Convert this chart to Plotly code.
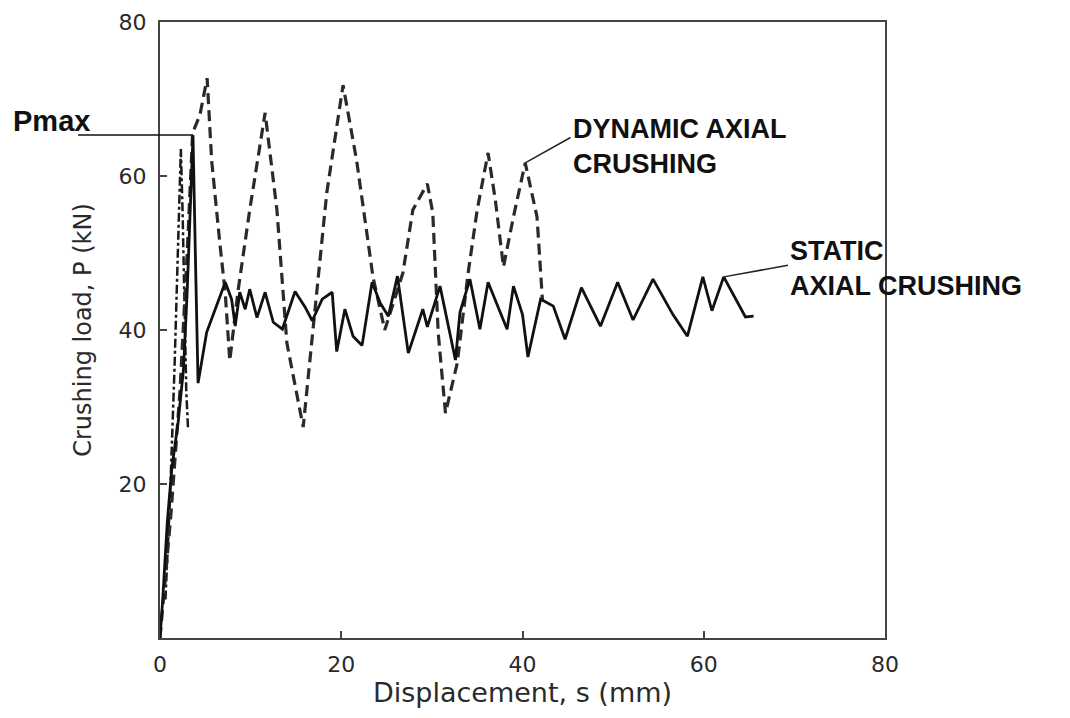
import plotly.graph_objects as go

# ---- data (displacement in mm, load in kN) ----
static_x = [0, 0.3, 0.8, 1.3, 2.0, 2.6, 3.0, 3.3, 3.64, 3.9, 4.2, 5.15, 6.3, 7.2, 7.9, 8.3,
            8.8, 9.4, 9.9, 10.7, 11.6, 12.5, 13.5, 14.9, 16.0, 16.8, 17.9, 19.0, 19.5, 20.4,
            21.3, 22.3, 23.4, 24.3, 25.2, 26.2, 27.4, 29.0, 29.5, 30.9, 32.6, 33.1, 34.2,
            35.3, 36.2, 37.3, 38.3, 39.0, 40.0, 40.6, 42.0, 43.4, 44.7, 46.5, 48.6, 50.5,
            52.2, 54.4, 56.6, 58.2, 59.9, 60.9, 62.2, 64.6, 65.5]
static_y = [0, 5, 15, 22, 28, 35, 45, 55, 65.3, 50, 33.1, 39.7, 43.5, 46.2, 44, 40.5,
            44.9, 42.7, 45.3, 41.6, 44.9, 41, 40.1, 45, 43, 41.2, 44, 44.9, 37.2, 42.7,
            39.2, 38, 46.2, 43.5, 41.8, 47, 37, 42.7, 40.4, 45.7, 36.1, 42.3, 46.6,
            40.1, 46.2, 43, 40.1, 45.7, 42, 36.5, 44, 43.1, 38.8, 45.5, 40.5, 46.2,
            41.3, 46.6, 42, 39.2, 46.9, 42.5, 46.9, 41.7, 41.8]

dynamic_x = [0, 1.2, 2.2, 3.0, 3.6, 4.4, 5.2, 5.7, 6.6, 7.2, 7.7, 8.6, 9.9, 11.6, 12.9,
             14.0, 15.8, 17.3, 18.4, 20.2, 21.7, 23.5, 24.8, 26.8, 27.9, 29.5, 30.1, 30.7,
             31.5, 32.8, 34.0, 35.0, 36.2, 37.0, 37.9, 39.0, 40.3, 41.6, 42.2]
dynamic_y = [0, 16, 32, 50, 65.6, 67.9, 72.7, 62, 51.3, 44.8, 36, 45, 55.6, 68.2, 55.6,
             38.3, 27.4, 44.8, 57.8, 71.8, 62, 46.9, 40, 47.4, 55.6, 59, 55.2, 39.6,
             29.2, 35.7, 47.4, 55.6, 63, 56.9, 48.2, 54.7, 61.7, 54.7, 43.9]

# early dash-dot record in the initial peak region
initial_x = [0.6, 1.1, 1.6, 2.0, 2.3, 2.5, 2.7, 2.9, 3.1]
initial_y = [5, 18, 35, 52, 63.5, 55, 42, 32, 27]

x_ticks = [0, 20, 40, 60, 80]
y_ticks = [20, 40, 60, 80]

fig = go.Figure()
fig.add_trace(go.Scatter(x=initial_x, y=initial_y, mode="lines",
                         line=dict(color="#1a1a1a", width=2.5, dash="dashdot"),
                         showlegend=False, hoverinfo="skip"))
fig.add_trace(go.Scatter(x=dynamic_x, y=dynamic_y, mode="lines", name="Dynamic",
                         line=dict(color="#2a2a2a", width=3.2, dash="11px,6px"),
                         showlegend=False))
fig.add_trace(go.Scatter(x=static_x, y=static_y, mode="lines", name="Static",
                         line=dict(color="#111111", width=2.8),
                         showlegend=False))

label_font = dict(family="Arial, Liberation Sans", size=27, color="#111111")

annotations = [
    dict(text="<b>Pmax</b>", xref="paper", yref="paper", x=-0.205, y=0.839,
         xanchor="left", yanchor="middle", showarrow=False,
         font=dict(family="Arial, Liberation Sans", size=29, color="#111111")),
    dict(text="<b>DYNAMIC AXIAL<br>CRUSHING</b>", xref="x", yref="y", x=45.3, y=63.8,
         xanchor="left", yanchor="middle", align="left", showarrow=False, font=label_font),
    dict(text="<b>STATIC<br>AXIAL CRUSHING</b>", xref="x", yref="y", x=69.3, y=48.0,
         xanchor="left", yanchor="middle", align="left", showarrow=False, font=label_font),
]

shapes = [
    # Pmax pointer
    dict(type="line", xref="paper", yref="paper", x0=-0.113, x1=0.0455,
         y0=0.8166, y1=0.8166, line=dict(color="#111111", width=1.5)),
    # dynamic pointer
    dict(type="line", xref="x", yref="y", x0=40.3, y0=61.7, x1=45.3, y1=65.0,
         line=dict(color="#222222", width=1.5)),
    # static pointer
    dict(type="line", xref="x", yref="y", x0=62.2, y0=46.9, x1=69.3, y1=48.4,
         line=dict(color="#222222", width=1.5)),
]

fig.update_layout(
    width=1070, height=718,
    margin=dict(l=152, r=193, t=14, b=88, autoexpand=False),
    paper_bgcolor="white", plot_bgcolor="white",
    annotations=annotations, shapes=shapes,
    showlegend=False,
)

axis_common = dict(showgrid=False, zeroline=False, showline=True, mirror=True,
                   linecolor="#444444", linewidth=2, ticks="inside", ticklen=7,
                   tickwidth=1.5, tickcolor="#444444", automargin=False,
                   tickfont=dict(family="DejaVu Sans", size=22, color="#2a2a2a"))

fig.update_xaxes(range=[0, 80], tickvals=x_ticks,
                 title=dict(text="Displacement, s (mm)", standoff=5,
                            font=dict(family="DejaVu Sans", size=27, color="#2a2a2a")),
                 ticklabelstandoff=6, **axis_common)
fig.update_yaxes(range=[0, 80], tickvals=y_ticks,
                 title=dict(text="Crushing load, P (kN)", standoff=20,
                            font=dict(family="DejaVu Sans", size=24, color="#2a2a2a")),
                 ticklabelstandoff=7, **axis_common)

fig.write_html("out.html")
